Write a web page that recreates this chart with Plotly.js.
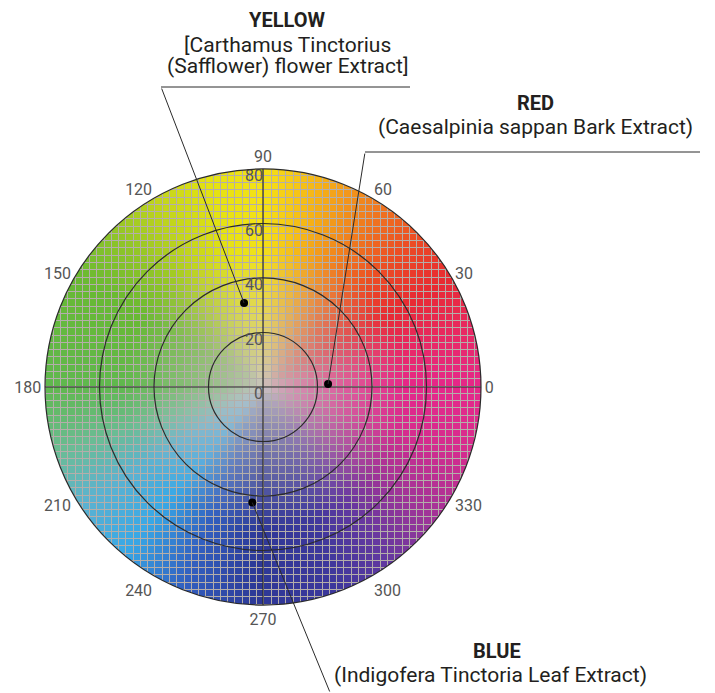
<!DOCTYPE html>
<html><head><meta charset="utf-8">
<script src="https://cdn.plot.ly/plotly-3.0.1.min.js"></script>
<style>html,body{margin:0;padding:0;background:#fff;}#chart{width:715px;height:693px;}</style>
</head><body><div id="chart"></div>
<script>
// ---- data ----
const dyeNames = ['YELLOW', 'RED', 'BLUE'];
const dyeSources = ['[Carthamus Tinctorius<br>(Safflower) flower Extract]', '(Caesalpinia sappan Bark Extract)', '(Indigofera Tinctoria Leaf Extract)'];
const dyeChroma = [31.6, 23.9, 42.6];
const dyeHue = [102.7, 2.6, 264.7];
const angleTicks = [0, 30, 60, 90, 120, 150, 180, 210, 240, 270, 300, 330];
const angleTickLabels = ['0', '30', '60', '90', '120', '150', '180', '210', '240', '270', '300', '330'];
const radialTicks = [0, 20, 40, 60, 80];
const radialTickLabels = ['0', '20', '40', '60', '80'];
const radialMax = 80;
// colour wheel stops (hue angle -> rim colour)
const hueStopAngles = [0, 15, 30, 45, 60, 75, 90, 105, 120, 135, 150, 180, 198, 213, 230, 248, 268, 290, 305, 322, 342, 360];
const hueStopColors = [
  [230, 40, 138], [232, 40, 100], [232, 42, 50], [236, 78, 36], [240, 128, 30], [245, 180, 22],
  [245, 226, 22], [228, 226, 18], [192, 212, 28], [142, 196, 40], [104, 185, 50], [96, 184, 78],
  [106, 188, 150], [92, 178, 208], [56, 168, 230], [50, 96, 192], [45, 56, 150], [62, 56, 156],
  [98, 56, 160], [160, 52, 152], [214, 44, 142], [230, 40, 138]
];
const neutralColor = [202, 196, 194];
const gridLineColor = [180, 174, 170];

// ---- colour field (background image) ----
function rimColor(a) {
  for (let k = 0; k < hueStopAngles.length - 1; k++) {
    if (a >= hueStopAngles[k] && a <= hueStopAngles[k + 1]) {
      const f = (a - hueStopAngles[k]) / (hueStopAngles[k + 1] - hueStopAngles[k]);
      const c0 = hueStopColors[k], c1 = hueStopColors[k + 1];
      return [0, 1, 2].map(q => c0[q] + (c1[q] - c0[q]) * f);
    }
  }
  return hueStopColors[0];
}
const N = 436, CELLS = 60, P = N / CELLS, H = N / 2;
const cellCols = [];
for (let cj = 0; cj < CELLS; cj++) {
  const row = [];
  for (let ci = 0; ci < CELLS; ci++) {
    const cx = (ci + 0.5) * P - H, cy = (cj + 0.5) * P - H;
    const rr = Math.hypot(cx, cy) / H * radialMax;
    const ang = (Math.atan2(cy, cx) * 180 / Math.PI + 360) % 360;
    const t = Math.min(1, Math.pow(rr / 52, 0.75));
    const rc = rimColor(ang);
    row.push([0, 1, 2].map(q => Math.round(neutralColor[q] * (1 - t) + rc[q] * t)));
  }
  cellCols.push(row);
}
const img = [];
for (let j = 0; j < N; j++) {
  const row = [];
  for (let i = 0; i < N; i++) {
    const px = i + 0.5 - H, py = j + 0.5 - H;
    if (px * px + py * py > H * H) { row.push([255, 255, 255, 0]); continue; }
    if ((i % P) < 1 || (j % P) < 1) { row.push([gridLineColor[0], gridLineColor[1], gridLineColor[2], 1]); continue; }
    const c = cellCols[Math.floor(j / P)][Math.floor(i / P)];
    row.push([c[0], c[1], c[2], 1]);
  }
  img.push(row);
}
const d = 2 * radialMax / N;

const lineCol = '#2b2b2b';
const traces = [
  { type: 'image', z: img, colormodel: 'rgba', x0: -radialMax + d / 2, dx: d, y0: -radialMax + d / 2, dy: d, hoverinfo: 'skip', xaxis: 'x', yaxis: 'y' },
  { type: 'scatterpolar', mode: 'lines', r: [radialMax, radialMax], theta: [0, 180], line: { color: lineCol, width: 1.2 }, hoverinfo: 'skip' },
  { type: 'scatterpolar', mode: 'lines', r: [radialMax, radialMax], theta: [90, 270], line: { color: lineCol, width: 1.2 }, hoverinfo: 'skip' },
  { type: 'scatterpolar', mode: 'text', r: radialTicks, theta: radialTicks.map(() => 90), text: radialTickLabels, textposition: 'bottom left', textfont: { size: 16, color: '#555' }, hoverinfo: 'skip' },
  { type: 'scatterpolar', mode: 'markers', r: dyeChroma, theta: dyeHue, text: dyeNames, marker: { size: 8, color: '#000' } }
];

// callouts: arrow from each dye point to its label
const tailOffsets = [[-83, -216], [37, -232], [78, 200]];
const annotations = [];
dyeNames.forEach((n, k) => {
  const th = dyeHue[k] * Math.PI / 180;
  annotations.push({ xref: 'x', yref: 'y', x: dyeChroma[k] * Math.cos(th), y: dyeChroma[k] * Math.sin(th),
    text: '', showarrow: true, arrowhead: 0, arrowwidth: 1, arrowcolor: lineCol, standoff: 0, startstandoff: 0,
    ax: tailOffsets[k][0], ay: tailOffsets[k][1] });
});
const titlePos = [[287, 20], [535, 103], [497, 651]];
const subPos = [[287, 45], [535, 127], [490, 675]];
const subLineGap = 21;
dyeNames.forEach((n, k) => {
  annotations.push({ xref: 'paper', yref: 'paper', x: titlePos[k][0] / 715, y: 1 - titlePos[k][1] / 693, xanchor: 'center', yanchor: 'middle',
    text: '<b>' + n + '</b>', showarrow: false, font: { size: 20, color: '#231f20' } });
  dyeSources[k].split('<br>').forEach((ln, m) => {
    annotations.push({ xref: 'paper', yref: 'paper', x: subPos[k][0] / 715, y: 1 - (subPos[k][1] + m * subLineGap) / 693, xanchor: 'center', yanchor: 'middle',
      text: ln, showarrow: false, font: { size: 21, color: '#231f20' } });
  });
});
const shapes = [
  { type: 'line', xref: 'paper', yref: 'paper', x0: 161 / 715, x1: 410 / 715, y0: 1 - 87 / 693, y1: 1 - 87 / 693, line: { color: lineCol, width: 1 } },
  { type: 'line', xref: 'paper', yref: 'paper', x0: 365 / 715, x1: 700 / 715, y0: 1 - 152 / 693, y1: 1 - 152 / 693, line: { color: lineCol, width: 1 } }
];

const dom = { x: [45 / 715, 481 / 715], y: [88 / 693, 524 / 693] };
const layout = {
  width: 715, height: 693, margin: { l: 0, r: 0, t: 0, b: 0 },
  paper_bgcolor: '#ffffff', plot_bgcolor: 'rgba(0,0,0,0)', showlegend: false,
  font: { family: 'Roboto, "Open Sans", sans-serif', color: '#231f20' },
  xaxis: { domain: dom.x, range: [-radialMax, radialMax], visible: false, fixedrange: true },
  yaxis: { domain: dom.y, range: [-radialMax, radialMax], visible: false, fixedrange: true },
  polar: {
    domain: dom, bgcolor: 'rgba(0,0,0,0)',
    radialaxis: { range: [0, radialMax], tickvals: [20, 40, 60], showticklabels: false, ticks: '', showline: false, gridcolor: lineCol, gridwidth: 1.2 },
    angularaxis: { direction: 'counterclockwise', rotation: 0, tickvals: angleTicks, ticktext: angleTickLabels, showgrid: false, showline: true, linecolor: lineCol, linewidth: 1.2, ticks: '', tickfont: { size: 16, color: '#555' } }
  },
  annotations: annotations, shapes: shapes
};
Plotly.newPlot('chart', traces, layout, { displayModeBar: false, staticPlot: true });
</script></body></html>
